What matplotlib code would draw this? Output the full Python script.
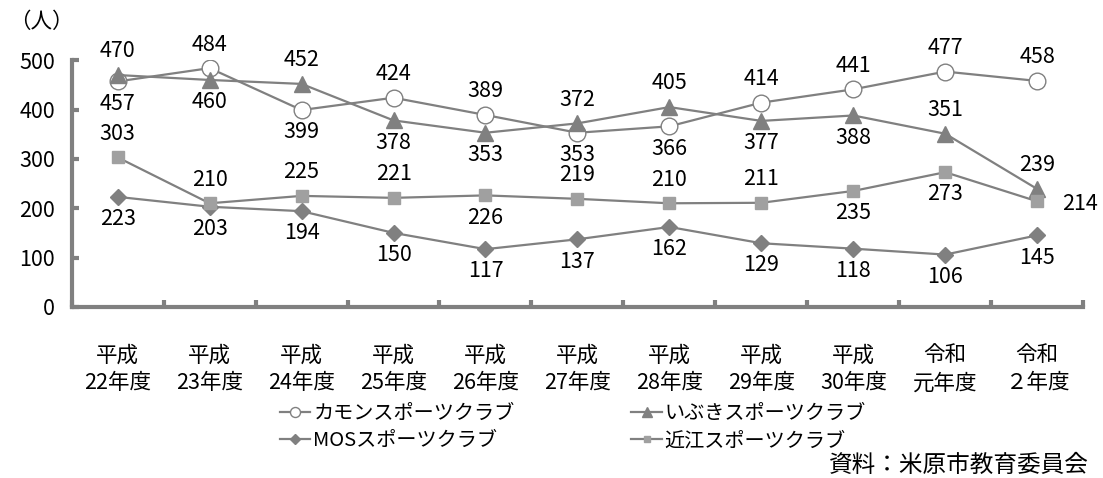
import matplotlib
matplotlib.use("Agg")
import matplotlib.pyplot as plt
from matplotlib.lines import Line2D

plt.rcParams['font.family'] = ['Noto Sans CJK JP', 'DejaVu Sans']

# data
years = ["平成\n22年度", "平成\n23年度", "平成\n24年度", "平成\n25年度", "平成\n26年度",
         "平成\n27年度", "平成\n28年度", "平成\n29年度", "平成\n30年度", "令和\n元年度", "令和\n２年度"]
kamon = [457, 484, 399, 424, 389, 353, 366, 414, 441, 477, 458]
ibuki = [470, 460, 452, 378, 353, 372, 405, 377, 388, 351, 239]
mos = [223, 203, 194, 150, 117, 137, 162, 129, 118, 106, 145]
omi = [303, 210, 225, 221, 226, 219, 210, 211, 235, 273, 214]

# label placement: a = above, b = below, r = right
kamon_pos = list("babaabbaaaa")
ibuki_pos = list("ababbaabbaa")
mos_pos = list("bbbbbbbbbbb")
omi_pos = list("aaaabaaabbr")

gray = "#808080"
fs = 15.5
fig = plt.figure(figsize=(11.03, 4.78), dpi=100)
ax = fig.add_axes([0.065, 0.358, 0.917, 0.516])

x = list(range(len(years)))
series = [
    (kamon, kamon_pos, dict(marker='o', markersize=12, markerfacecolor='white', markeredgecolor=gray, markeredgewidth=1)),
    (ibuki, ibuki_pos, dict(marker='^', markersize=12, markerfacecolor=gray, markeredgecolor=gray)),
    (mos, mos_pos, dict(marker='D', markersize=8, markerfacecolor=gray, markeredgecolor=gray)),
    (omi, omi_pos, dict(marker='s', markersize=8, markerfacecolor='#a0a0a0', markeredgecolor='#a0a0a0')),
]

for vals, pos, st in series:
    ax.plot(x, vals, color=gray, lw=1.6, **st)
    for xi, v, p in zip(x, vals, pos):
        if p == 'a':
            off = (0, 17)
        elif p == 'b':
            off = (0, -16)
        else:
            off = (31, -2)
        ax.annotate(str(v), (xi, v), xytext=off, textcoords='offset points',
                    ha='center', va='center', fontsize=fs)

ax.set_xlim(-0.5, len(years) - 0.5)
ax.set_ylim(0, 500)
ax.set_yticks([0, 100, 200, 300, 400, 500])
ax.set_xticks(x)
ax.set_xticklabels(years, fontsize=fs, linespacing=1.35)
ax.set_xticks([i - 0.5 for i in range(len(years) + 1)], minor=True)
ax.tick_params(axis='x', which='major', length=0, pad=27)
ax.tick_params(axis='x', which='minor', length=5, width=3, color=gray, direction='in')
ax.tick_params(axis='y', length=5, width=3, color=gray, direction='in', labelsize=fs, pad=12)
for s in ['top', 'right']:
    ax.spines[s].set_visible(False)
for s in ['left', 'bottom']:
    ax.spines[s].set_color(gray)
    ax.spines[s].set_linewidth(3)

fig.text(0.008, 0.955, "（人）", fontsize=fs, ha='left', va='center')

names = ["カモンスポーツクラブ", "いぶきスポーツクラブ", "MOSスポーツクラブ", "近江スポーツクラブ"]
handles = [Line2D([], [], color=gray, lw=1.6, **st) for _, _, st in series]
leg_order = [0, 2, 1, 3]
fig.legend([handles[i] for i in leg_order], [names[i] for i in leg_order],
           loc='upper left', bbox_to_anchor=(0.254, 0.157), ncol=2, frameon=False,
           fontsize=14.5, handlelength=1.5, handletextpad=0.15, columnspacing=5.8,
           labelspacing=0.3, markerscale=0.6, borderaxespad=0, borderpad=0)

fig.text(0.987, 0.027, "資料：米原市教育委員会", fontsize=17, ha='right', va='center')

fig.savefig("out.png", dpi=100)
